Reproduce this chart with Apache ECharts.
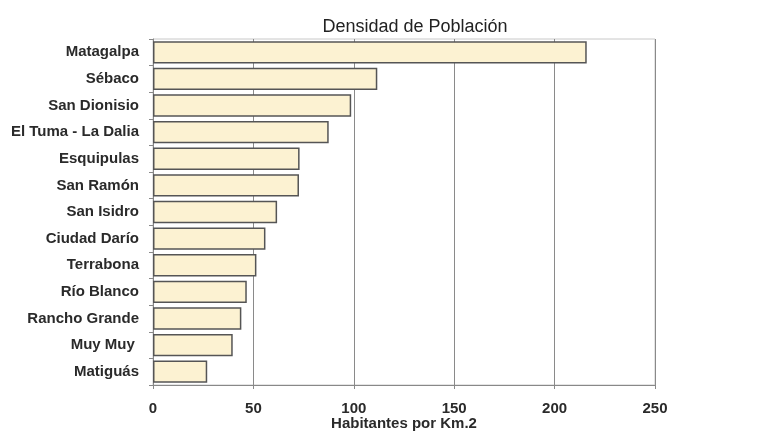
<!DOCTYPE html>
<html>
<head>
<meta charset="utf-8">
<script src="https://cdn.jsdelivr.net/npm/echarts@6/dist/echarts.min.js"></script>
<style>html,body{margin:0;padding:0;background:#fff}#c{width:760px;height:434px}</style>
</head>
<body>
<div id="c"></div>
<script>
const categories = ["Matagalpa","Sébaco","San Dionisio","El Tuma - La Dalia","Esquipulas","San Ramón","San Isidro","Ciudad Darío","Terrabona","Río Blanco","Rancho Grande","Muy Muy ","Matiguás"];
const densidad = [216, 111.7, 98.7, 87.5, 73, 72.7, 61.8, 56, 51.5, 46.7, 44, 39.7, 27];
const xTicks = [0, 50, 100, 150, 200, 250];

const chart = echarts.init(document.getElementById('c'), null, {renderer:'canvas'});
const font = 'Liberation Sans, Arial, sans-serif';
chart.setOption({
  animation: false,
  backgroundColor: '#ffffff',
  title: {
    text: 'Densidad de Población',
    left: 410, top: 13, textAlign: 'center',
    textStyle: {fontFamily: font, fontSize: 18, fontWeight: 'normal', color: '#222'}
  },
  grid: {left: 153, right: 105, top: 39, bottom: 49, show: true, borderColor: '#c8c8c8', borderWidth: 1, backgroundColor: '#fff', outerBoundsMode: 'none', containLabel: false},
  xAxis: {
    type: 'value', min: xTicks[0], max: xTicks[xTicks.length-1], interval: 50,
    name: 'Habitantes por Km.2', nameLocation: 'middle', nameGap: 31, nameMoveOverlap: false,
    nameTextStyle: {fontFamily: font, fontSize: 15, fontWeight: 'bold', color: '#2a2a2a'},
    axisLine: {show: true, lineStyle: {color: '#888', width: 1}},
    axisTick: {show: true, length: 4, lineStyle: {color: '#888'}},
    axisLabel: {fontFamily: font, fontSize: 15, fontWeight: 'bold', color: '#2a2a2a', margin: 16},
    splitLine: {show: true, lineStyle: {color: '#8a8a8a', width: 1}}
  },
  yAxis: {
    type: 'category', data: categories, inverse: true,
    axisLine: {show: true, lineStyle: {color: '#888', width: 1}},
    axisTick: {show: true, length: 4, lineStyle: {color: '#888'}},
    axisLabel: {fontFamily: font, fontSize: 15, fontWeight: 'bold', color: '#2a2a2a', margin: 14}
  },
  series: [{
    type: 'bar', data: densidad, barCategoryGap: '16%',
    itemStyle: {color: '#fcf2d2', borderColor: '#555', borderWidth: 1.5}
  }]
});
</script>
</body>
</html>
